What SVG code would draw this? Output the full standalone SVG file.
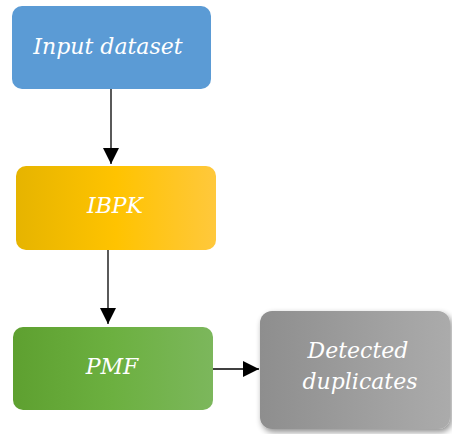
<svg xmlns="http://www.w3.org/2000/svg" width="452" height="434" viewBox="0 0 452 434">
  <defs>
    <linearGradient id="gYellow" x1="0" y1="0" x2="1" y2="0">
      <stop offset="0" stop-color="#e6b400"/>
      <stop offset="0.5" stop-color="#ffc300"/>
      <stop offset="1" stop-color="#ffc83c"/>
    </linearGradient>
    <linearGradient id="gGreen" x1="0" y1="0" x2="1" y2="0">
      <stop offset="0" stop-color="#5ea030"/>
      <stop offset="0.5" stop-color="#6cb040"/>
      <stop offset="1" stop-color="#7cb75c"/>
    </linearGradient>
    <linearGradient id="gGray" x1="0" y1="0" x2="1" y2="0">
      <stop offset="0" stop-color="#8e8e8e"/>
      <stop offset="1" stop-color="#ababab"/>
    </linearGradient>
    <filter id="shadow" x="-10%" y="-10%" width="125%" height="130%">
      <feGaussianBlur in="SourceAlpha" stdDeviation="3"/>
      <feOffset dx="2" dy="3" result="b"/>
      <feComponentTransfer><feFuncA type="linear" slope="0.45"/></feComponentTransfer>
      <feMerge><feMergeNode/><feMergeNode in="SourceGraphic"/></feMerge>
    </filter>
    <marker id="arrow" viewBox="0 0 10 10" refX="10" refY="5" markerWidth="16" markerHeight="16" markerUnits="userSpaceOnUse" orient="auto">
      <path d="M0,0 L10,5 L0,10 z" fill="#000"/>
    </marker>
  </defs>
  <style>
    .edge { stroke: #000; stroke-width: 1.3; fill: none; marker-end: url(#arrow); }
    .lbl { font-family: "DejaVu Serif", serif; font-style: italic; font-size: 22px; fill: #fff; text-anchor: middle; }
  </style>

  <g id="connectors">
    <line class="edge" x1="111" y1="89" x2="111" y2="164"/>
    <line class="edge" x1="108" y1="250" x2="108" y2="324"/>
    <line class="edge" x1="213" y1="369" x2="259" y2="369"/>
  </g>

  <g id="input-dataset">
    <rect x="12" y="6" width="199" height="83" rx="10" fill="#5b9bd5"/>
    <text class="lbl" x="108" y="54">Input dataset</text>
  </g>

  <g id="ibpk">
    <rect x="16" y="166" width="200" height="84" rx="10" fill="url(#gYellow)"/>
    <text class="lbl" x="115" y="213">IBPK</text>
  </g>

  <g id="pmf">
    <rect x="13" y="327" width="200" height="83" rx="10" fill="url(#gGreen)"/>
    <text class="lbl" x="112" y="374">PMF</text>
  </g>

  <g id="detected-duplicates">
    <rect x="260" y="311" width="190" height="118" rx="12" fill="url(#gGray)" filter="url(#shadow)"/>
    <text class="lbl" x="358" y="358">Detected</text>
    <text class="lbl" x="360" y="389">duplicates</text>
  </g>
</svg>
